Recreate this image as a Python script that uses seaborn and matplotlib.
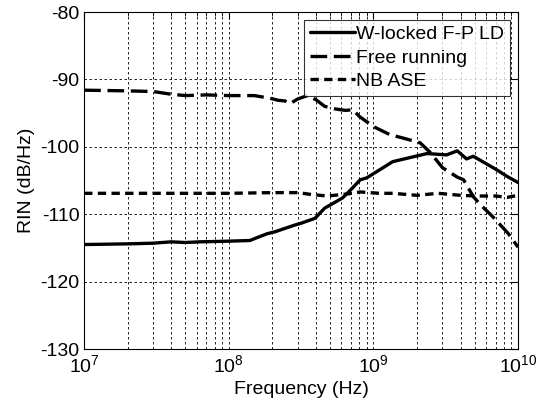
import numpy as np
import pandas as pd
import matplotlib
matplotlib.use('Agg')
import matplotlib.pyplot as plt
import seaborn as sns
from matplotlib.ticker import LogLocator, NullFormatter, MultipleLocator

sns.set_style('white')
plt.rcParams['font.family'] = ['Liberation Sans', 'DejaVu Sans']
plt.rcParams['axes.unicode_minus'] = False
plt.rcParams['text.color'] = 'black'
plt.rcParams['axes.labelcolor'] = 'black'
plt.rcParams['xtick.color'] = 'black'
plt.rcParams['ytick.color'] = 'black'

# W-locked F-P LD (solid)
f_locked = [1e7, 2e7, 3e7, 4e7, 5e7, 6.3e7, 1e8, 1.4e8, 1.6e8, 1.84e8, 2.09e8,
            2.87e8, 3.2e8, 3.95e8, 4.6e8, 6.1e8, 6.6e8, 8.1e8, 9.0e8, 1.36e9,
            2.35e9, 3.2e9, 3.8e9, 4.4e9, 4.9e9, 7.1e9, 8.4e9, 1e10]
rin_locked = [-114.5, -114.4, -114.3, -114.1, -114.2, -114.1, -114.0, -113.9,
              -113.4, -112.9, -112.6, -111.6, -111.3, -110.6, -109.1, -107.6,
              -106.9, -104.9, -104.6, -102.2, -101.0, -101.2, -100.6, -101.8,
              -101.4, -103.4, -104.4, -105.3]

# Free running (long dash)
f_free = [1e7, 2e7, 3e7, 4e7, 5e7, 7e7, 1e8, 1.5e8, 1.93e8, 2.2e8, 2.45e8,
          2.65e8, 3.0e8, 3.5e8, 4e8, 4.6e8, 5.5e8, 6.4e8, 7.2e8, 8e8, 1.0e9,
          1.3e9, 1.6e9, 2.1e9, 2.46e9, 3.0e9, 3.8e9, 4.2e9, 4.9e9, 5.5e9,
          6.7e9, 8.5e9, 1e10]
rin_free = [-91.6, -91.7, -91.8, -92.2, -92.4, -92.3, -92.4, -92.4, -92.8,
            -93.1, -93.2, -93.6, -92.9, -92.4, -93.0, -94.0, -94.4, -94.6,
            -94.5, -95.5, -97.0, -98.2, -98.7, -99.4, -100.8, -103.1, -104.5,
            -104.9, -107.4, -108.6, -110.4, -112.8, -114.9]

# NB ASE (short dash)
f_ase = [1e7, 3e7, 1e8, 2e8, 3e8, 3.8e8, 4.8e8, 6.6e8, 8.1e8, 1.1e9, 1.36e9,
         2.0e9, 2.8e9, 4.0e9, 5.2e9, 7e9, 8.4e9, 1e10]
rin_ase = [-106.9, -106.9, -106.9, -106.8, -106.8, -107.1, -107.3, -107.0,
           -106.7, -106.9, -106.9, -107.2, -106.9, -107.2, -107.3, -107.3,
           -107.5, -107.2]

fig, ax = plt.subplots(figsize=(5.5, 4.07), dpi=100)
fig.subplots_adjust(left=0.153, right=0.942, bottom=0.1425, top=0.9705)

sns.lineplot(x=f_locked, y=rin_locked, ax=ax, color='black', lw=2.4,
             estimator=None, label='W-locked F-P LD')
sns.lineplot(x=f_free, y=rin_free, ax=ax, color='black', lw=2.4,
             estimator=None, label='Free running', linestyle=(0, (5, 2)))
sns.lineplot(x=f_ase, y=rin_ase, ax=ax, color='black', lw=2.4,
             estimator=None, label='NB ASE', linestyle=(0, (2.5, 1.6)))

ax.set_xscale('log')
ax.set_xlim(1e7, 1e10)
ax.set_ylim(-130, -80)
ax.yaxis.set_major_locator(MultipleLocator(10))
ax.xaxis.set_major_locator(LogLocator(base=10, numticks=10))
ax.xaxis.set_minor_locator(LogLocator(base=10, subs=np.arange(2, 10), numticks=20))
ax.xaxis.set_minor_formatter(NullFormatter())

ax.grid(True, which='major', color='black', lw=0.6, linestyle=(0, (3, 3)))
ax.grid(True, which='minor', axis='x', color='black', lw=0.6, linestyle=(0, (3, 3)))

for s in ax.spines.values():
    s.set_color('black')
    s.set_linewidth(0.8)
ax.tick_params(which='both', direction='in', top=True, right=True,
               labelsize=14, color='black')
ax.tick_params(which='major', length=5)
ax.tick_params(which='minor', length=3)

ax.set_xlabel('Frequency (Hz)', fontsize=14)
ax.set_ylabel('RIN (dB/Hz)', fontsize=14)

leg = ax.legend(loc='upper right', fontsize=14, frameon=True, fancybox=False,
                edgecolor='black', handlelength=2.3, handletextpad=0.1,
                borderpad=0.3, labelspacing=0.3, borderaxespad=0.4)
leg.get_frame().set_linewidth(0.8)

plt.savefig('out.png', dpi=100)
